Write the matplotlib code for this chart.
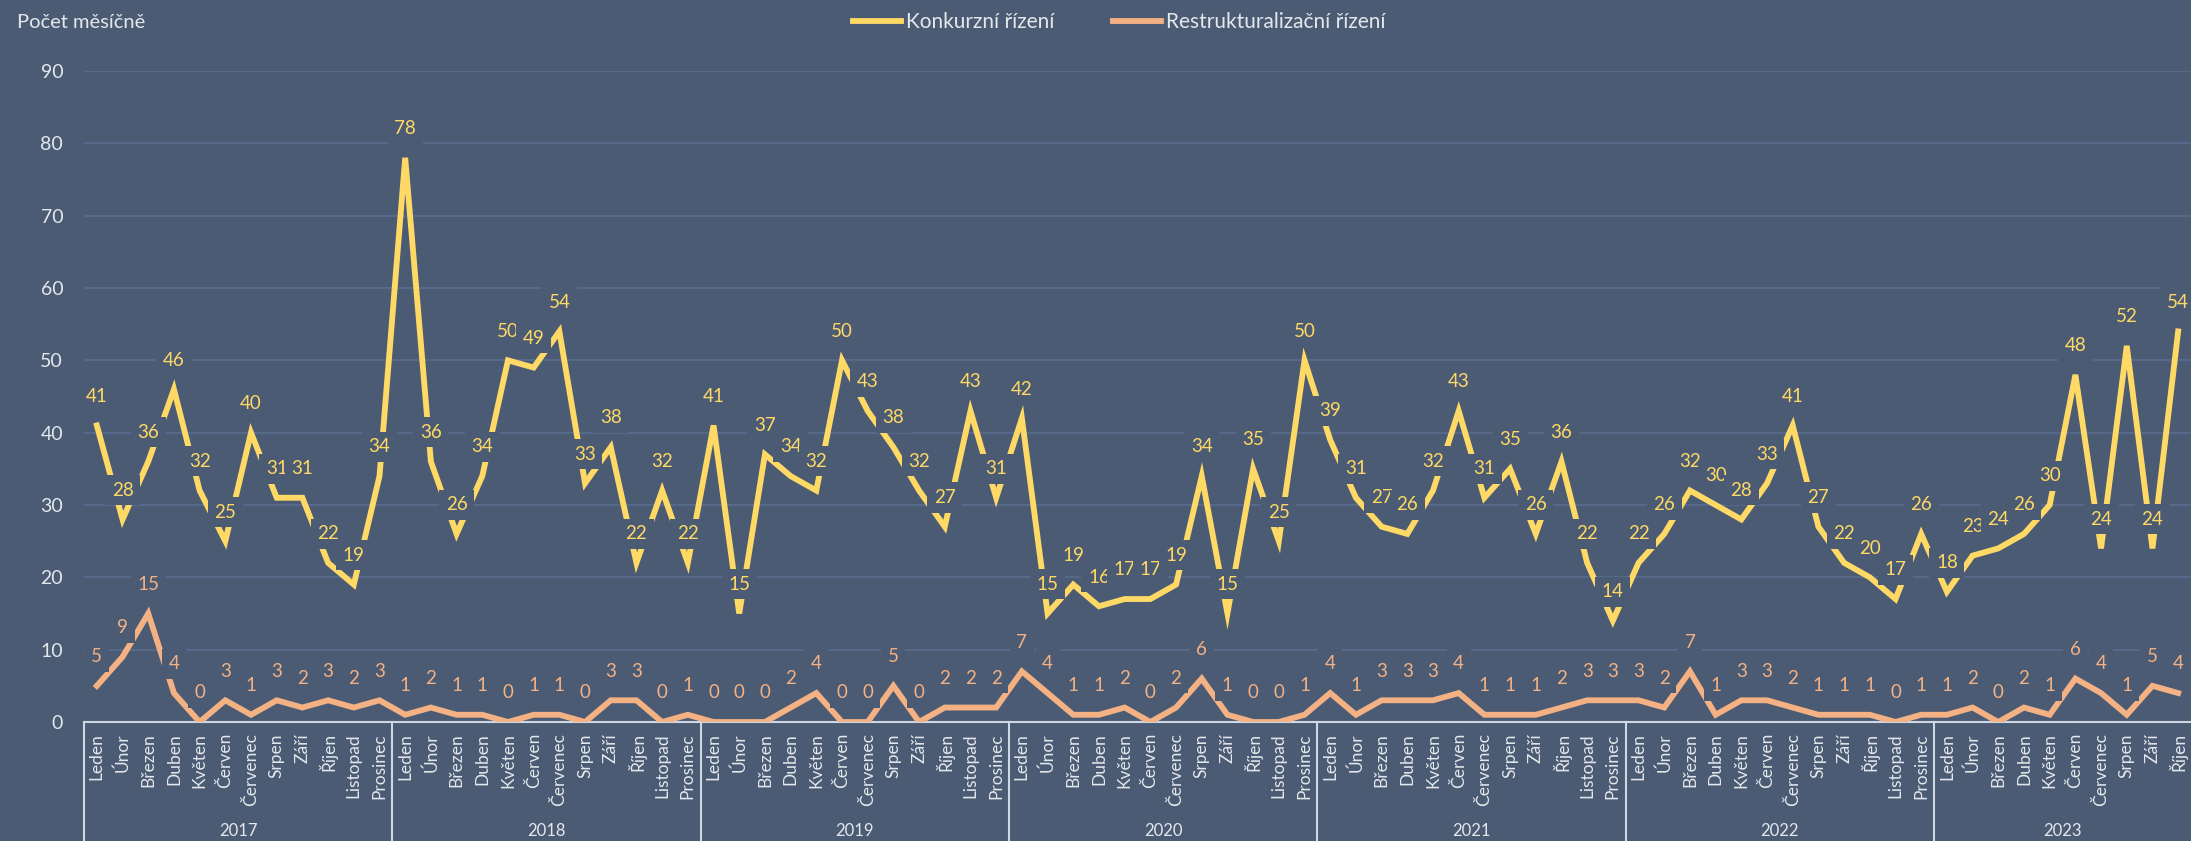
import numpy as np
import matplotlib
matplotlib.use("Agg")
import matplotlib.pyplot as plt
import matplotlib.transforms as mtransforms
from matplotlib.lines import Line2D

plt.rcParams['font.family'] = ['Lato', 'DejaVu Sans']

# Data
months = ["Leden", "Únor", "Březen", "Duben", "Květen", "Červen",
          "Červenec", "Srpen", "Září", "Říjen", "Listopad", "Prosinec"]
years = ["2017", "2018", "2019", "2020", "2021", "2022", "2023"]
months_in_year = [12, 12, 12, 12, 12, 12, 10]

konkurz = [41, 28, 36, 46, 32, 25, 40, 31, 31, 22, 19, 34,
           78, 36, 26, 34, 50, 49, 54, 33, 38, 22, 32, 22,
           41, 15, 37, 34, 32, 50, 43, 38, 32, 27, 43, 31,
           42, 15, 19, 16, 17, 17, 19, 34, 15, 35, 25, 50,
           39, 31, 27, 26, 32, 43, 31, 35, 26, 36, 22, 14,
           22, 26, 32, 30, 28, 33, 41, 27, 22, 20, 17, 26,
           18, 23, 24, 26, 30, 48, 24, 52, 24, 54]
restruk = [5, 9, 15, 4, 0, 3, 1, 3, 2, 3, 2, 3,
           1, 2, 1, 1, 0, 1, 1, 0, 3, 3, 0, 1,
           0, 0, 0, 2, 4, 0, 0, 5, 0, 2, 2, 2,
           7, 4, 1, 1, 2, 0, 2, 6, 1, 0, 0, 1,
           4, 1, 3, 3, 3, 4, 1, 1, 1, 2, 3, 3,
           3, 2, 7, 1, 3, 3, 2, 1, 1, 1, 0, 1,
           1, 2, 0, 2, 1, 6, 4, 1, 5, 4]

bg = '#4B5B73'
grid_c = '#56698A'
txt_c = '#E4E7EC'
yellow = '#FFD966'
salmon = '#F4B183'

labels = []
for n in months_in_year:
    labels += months[:n]
x = np.arange(len(konkurz))

fig = plt.figure(figsize=(21.91, 8.41), dpi=100, facecolor=bg)
ax = fig.add_axes([84 / 2191, 1 - 722 / 841, 1 - 84 / 2191, (722 - 71) / 841])
ax.set_facecolor(bg)

ax.plot(x, konkurz, color=yellow, lw=4.2, zorder=3, solid_joinstyle='miter')
ax.plot(x, restruk, color=salmon, lw=4.2, zorder=3, solid_joinstyle='miter')

# data labels with background box, like the Excel ones
for series, col in [(konkurz, yellow), (restruk, salmon)]:
    for xi, v in zip(x, series):
        ax.annotate(str(v), (xi, v), xytext=(0, 21), textcoords='offset points',
                    ha='center', va='center', fontsize=13.5, color=col,
                    zorder=5, annotation_clip=False,
                    bbox=dict(boxstyle='square,pad=0.35', fc=bg, ec='none'))

ax.set_xlim(-0.5, len(x) - 0.5)
ax.set_ylim(0, 90)
ax.set_yticks(range(0, 91, 10))
ax.yaxis.grid(True, color=grid_c, lw=1.5)
ax.set_axisbelow(True)
for s in ['top', 'right', 'left']:
    ax.spines[s].set_visible(False)
ax.spines['bottom'].set_color('#CFD6E4')
ax.spines['bottom'].set_linewidth(1.5)
ax.spines['bottom'].set_zorder(2)

ax.set_xticks(x)
ax.set_xticklabels(labels, rotation=90, fontsize=12.5, color=txt_c)
ax.tick_params(axis='x', length=0, pad=8)
ax.tick_params(axis='y', length=0, labelsize=14, labelcolor=txt_c, pad=15)

# year groups
trans = mtransforms.blended_transform_factory(ax.transData, ax.transAxes)
start = 0
for yr, n in zip(years, months_in_year):
    ax.text(start + (n - 1) / 2, -0.167, yr, transform=trans, ha='center',
            va='center', fontsize=12, color=txt_c)
    ax.plot([start - 0.5, start - 0.5], [0, -0.2], transform=trans,
            color='#CFD6E4', lw=1.5, clip_on=False)
    start += n

fig.text(17 / 2191, 1 - 22 / 841, "Počet měsíčně", fontsize=14.5, color=txt_c,
         va='center', ha='left')

handles = [Line2D([], [], color=yellow, lw=4.2), Line2D([], [], color=salmon, lw=4.2)]
fig.legend(handles, ["Konkurzní řízení", "Restrukturalizační řízení"],
           loc='center', bbox_to_anchor=(0.511, 1 - 22 / 841), ncol=2,
           frameon=False, fontsize=15, labelcolor=txt_c, handlelength=2.3,
           columnspacing=2.8, handletextpad=0.25)

fig.savefig("out.png", dpi=100, facecolor=bg)
